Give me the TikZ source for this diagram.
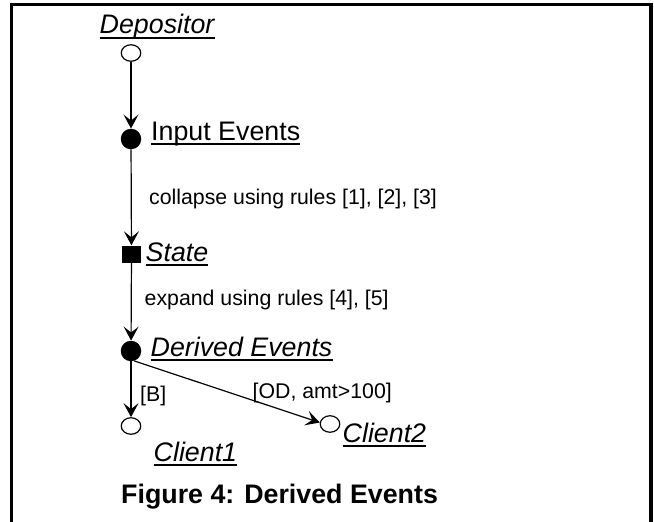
\documentclass[tikz,border=0pt]{standalone}
\usepackage{fontspec}
\setmainfont{Liberation Sans}
\usetikzlibrary{shapes.geometric,arrows.meta,calc}

\tikzset{
  opennode/.style={ellipse, draw, line width=1.2pt, fill=white, inner sep=0pt,
                   minimum width=19.5pt, minimum height=16.5pt},
  solidnode/.style={circle, fill=black, inner sep=0pt, minimum size=20.5pt},
  statenode/.style={rectangle, fill=black, inner sep=0pt,
                    minimum width=19pt, minimum height=17pt},
  arr/.style={line width=1.2pt, -{Stealth[length=14pt, width=15pt, inset=6pt]}},
  lbl/.style={inner sep=0pt, anchor=base west, font=\fontsize{26.8}{32}\selectfont},
  ilbl/.style={lbl, font=\fontsize{26.8}{32}\selectfont\itshape},
  note/.style={inner sep=0pt, anchor=base west, font=\fontsize{21.3}{25}\selectfont},
  ulin/.style={line width=1.4pt}
}

\newcommand{\underrule}[1]{%
  \draw[ulin] ($(#1.base west)+(0,4)$) -- ($(#1.base east)+(0,4)$);}

\begin{document}
\begin{tikzpicture}[x=1pt, y=-1pt]
  \useasboundingbox (0,0) rectangle (654,522);

  % open frame
  \draw[line width=3.5pt, line join=miter]
    (11.5,522) -- (11.5,4.5) -- (651,4.5) -- (651,522);

  % event nodes
  \node[opennode]  (dep)   at (131,53)  {};
  \node[solidnode] (inev)  at (131,139) {};
  \node[statenode] (state) at (131.5,254) {};
  \node[solidnode] (dev)   at (131,351) {};
  \node[opennode]  (cl1)   at (131,426) {};
  \node[opennode]  (cl2)   at (330,424)   {};

  % labels
  \node[ilbl] (tdep)   at (99.5,34)  {Depositor};
  \node[lbl]  (tin)    at (151,140)   {Input Events};
  \node[ilbl] (tstate) at (145.5,261) {State};
  \node[ilbl] (tdev)   at (150.5,356)   {Derived Events};
  \node[ilbl] (tc2)    at (342.5,442)   {Client2};
  \node[ilbl] (tc1)    at (153.5,461)   {Client1};
  \underrule{tdep}
  \underrule{tin}
  \underrule{tstate}
  \underrule{tdev}
  \underrule{tc2}
  \underrule{tc1}

  \node[note] (tcollapse) at (149,204) {collapse using rules [1], [2], [3]};
  \node[note] (texpand)   at (144.5,305) {expand using rules [4], [5]};
  \node[note] (tB)        at (140,401) {[B]};
  \node[note] (tOD)       at (252.5,398) {[OD, amt>100]};

  % connectors
  \draw[arr] (dep) -- (inev);
  \draw[arr] (inev) -- (state);
  \draw[arr] (state) -- (dev);
  \draw[arr] (dev) -- (cl1);
  \draw[arr] (dev.-72) -- (cl2.172);

  % caption
  \node[inner sep=0pt, anchor=base west, font=\fontsize{26.8}{32}\selectfont\bfseries]
    (cap) at (121,503) {Figure 4: Derived Events};
\end{tikzpicture}
\end{document}
